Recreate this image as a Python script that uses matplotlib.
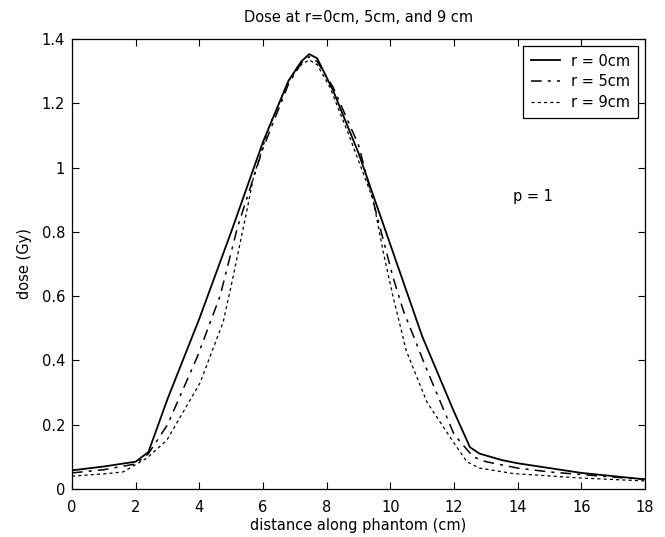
import numpy as np
import matplotlib
matplotlib.use("Agg")
import matplotlib.pyplot as plt

plt.rcParams['font.family'] = ['DejaVu Sans']

# dose profiles along the phantom, three radial offsets
x_r0 = [0, 1, 2, 2.4, 3, 4, 5, 6, 6.8, 7.2, 7.45, 7.7, 8.2, 9, 10, 11,
        12, 12.5, 12.8, 13.5, 14, 15, 16, 17, 18]
dose_r0 = [0.058, 0.07, 0.085, 0.115, 0.28, 0.53, 0.8, 1.08, 1.27, 1.33,
           1.353, 1.34, 1.24, 1.045, 0.76, 0.475, 0.24, 0.13, 0.11, 0.09,
           0.08, 0.065, 0.05, 0.04, 0.03]

x_r5 = [0, 1, 2, 2.4, 3, 3.93, 4.65, 5.2, 6, 6.8, 7.2, 7.45, 7.7, 8.2, 9,
        9.5, 10.08, 10.4, 11.15, 12, 12.6, 13, 14, 15, 16, 17, 18]
dose_r5 = [0.05, 0.06, 0.078, 0.11, 0.2, 0.41, 0.6, 0.815, 1.06, 1.26,
           1.325, 1.345, 1.33, 1.25, 1.07, 0.88, 0.66, 0.557, 0.37, 0.17,
           0.1, 0.085, 0.065, 0.053, 0.045, 0.037, 0.03]

x_r9 = [0, 1, 1.6, 2.35, 2.98, 4.02, 4.75, 5.06, 5.5, 5.7, 6.2, 6.8, 7.2,
        7.45, 7.7, 8.1, 8.7, 9.46, 9.77, 10.08, 10.5, 11.15, 12.0, 12.4,
        12.8, 13.86, 16, 18]
dose_r9 = [0.04, 0.047, 0.053, 0.096, 0.152, 0.33, 0.52, 0.66, 0.87, 0.97,
           1.13, 1.27, 1.32, 1.335, 1.32, 1.25, 1.1, 0.9, 0.74, 0.6, 0.43,
           0.27, 0.143, 0.085, 0.065, 0.048, 0.034, 0.025]

fig = plt.figure(figsize=(6.65, 5.37), dpi=100)
ax = fig.add_axes([0.1083, 0.0894, 0.8617, 0.838])

ax.plot(x_r0, dose_r0, color='black', lw=1.3, ls='-', label='r = 0cm')
ax.plot(x_r5, dose_r5, color='black', lw=1.1, dashes=(7, 4, 2, 4), label='r = 5cm')
ax.plot(x_r9, dose_r9, color='black', lw=0.9, dashes=(2.5, 2.5), label='r = 9cm')

ax.set_xlim(0, 18)
ax.set_ylim(0, 1.4)
ax.set_xticks(np.arange(0, 19, 2))
ax.set_yticks(np.arange(0, 1.41, 0.2))
ax.set_yticklabels(['0', '0.2', '0.4', '0.6', '0.8', '1', '1.2', '1.4'])
ax.tick_params(direction='in', top=True, right=True, length=5, width=0.8,
               labelsize=10.5)
ax.tick_params(axis='x', pad=8)
ax.tick_params(axis='y', pad=5)
for s in ax.spines.values():
    s.set_linewidth(0.9)

ax.set_xlabel('distance along phantom (cm)', fontsize=10.5, labelpad=2)
ax.set_ylabel('dose (Gy)', fontsize=10.5, labelpad=7)
ax.set_title('Dose at r=0cm, 5cm, and 9 cm', fontsize=10.5, pad=12)

ax.text(13.85, 0.91, 'p = 1', fontsize=10.5, va='center')

leg = ax.legend(loc='upper right', fontsize=10.5, fancybox=False,
                edgecolor='black', framealpha=1, handlelength=2.0,
                borderpad=0.5, labelspacing=0.4, handletextpad=0.8,
                borderaxespad=0.5)
leg.get_frame().set_linewidth(0.9)

fig.savefig('out.png', dpi=100)
